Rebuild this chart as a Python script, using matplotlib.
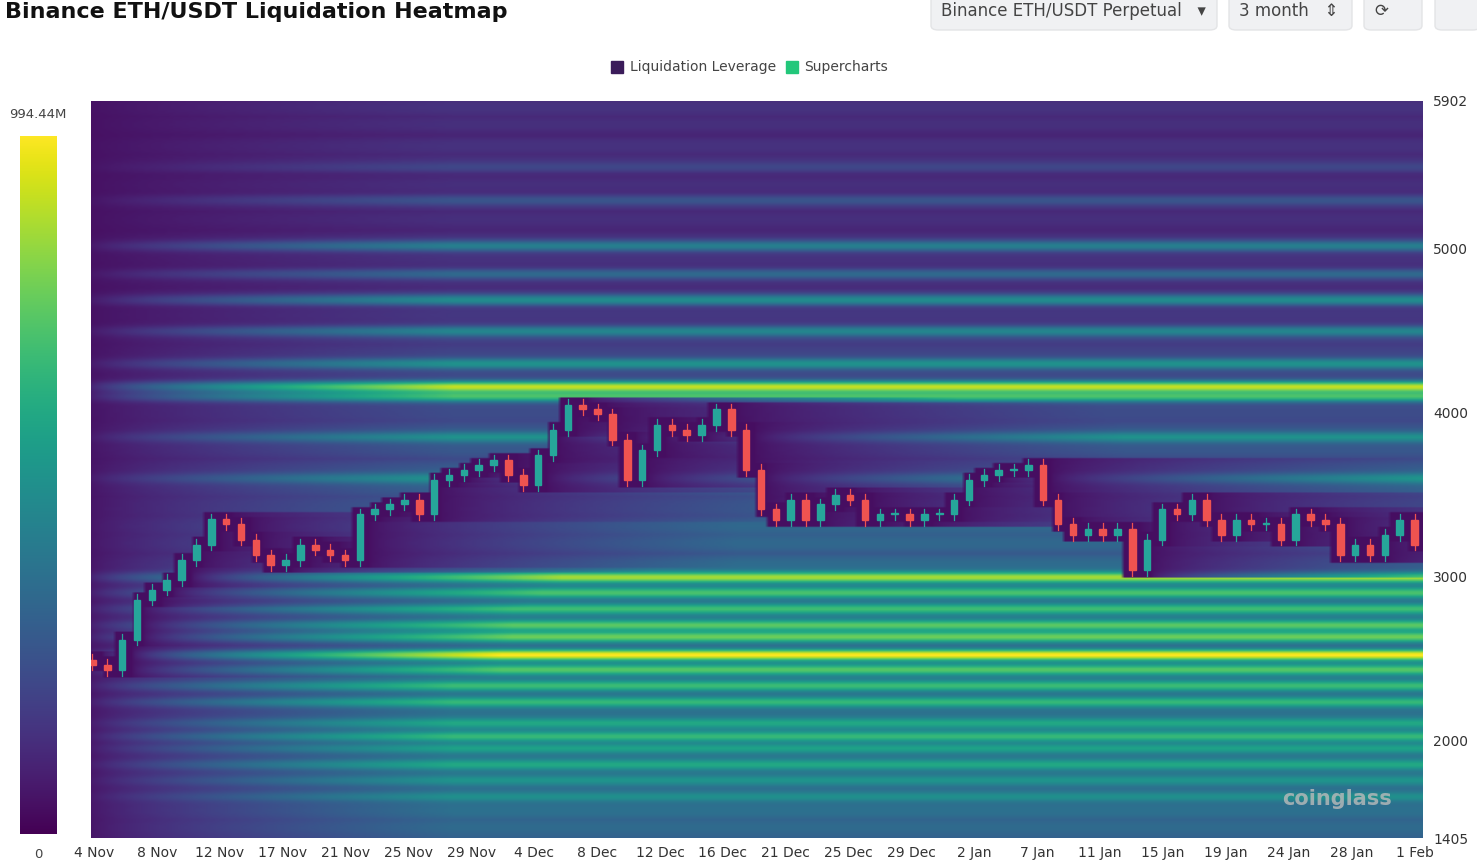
import numpy as np
import matplotlib
matplotlib.use("Agg")
import matplotlib.pyplot as plt
from matplotlib.patches import FancyBboxPatch, Rectangle

# ---------------- data ----------------
dates = ["4 Nov","8 Nov","12 Nov","17 Nov","21 Nov","25 Nov","29 Nov","4 Dec","8 Dec","12 Dec",
         "16 Dec","21 Dec","25 Dec","29 Dec","2 Jan","7 Jan","11 Jan","15 Jan","19 Jan","24 Jan",
         "28 Jan","1 Feb"]
closes = [2463,2430,2615,2860,2920,2980,3100,3195,3350,3320,3225,3130,3070,3100,3195,3165,3130,3100,
          3380,3410,3440,3470,3380,3590,3620,3650,3680,3710,3620,3560,3740,3895,4050,4020,3990,3835,
          3590,3770,3925,3895,3865,3925,4020,3895,3650,3410,3345,3470,3345,3440,3500,3470,3345,3380,
          3380,3345,3380,3380,3470,3590,3620,3650,3650,3680,3470,3320,3255,3290,3255,3290,3040,3225,
          3410,3380,3470,3345,3255,3345,3320,3320,3225,3380,3345,3320,3130,3195,3130,3255,3345,3195]
band_prices =    [5500,5300,5020,4850,4690,4500,4300,4160,4100,3850,3600,2995,2900,2800,2700,2630,2520,2430,2330,2230,2100,2020,1950,1850,1750,1650]
band_strengths = [0.06,0.10,0.30,0.20,0.35,0.30,0.38,0.95,0.60,0.30,0.30,0.75,0.55,0.50,0.55,0.60,1.00,0.55,0.50,0.45,0.35,0.45,0.30,0.35,0.25,0.20]
yticks = [1405,2000,3000,4000,5000,5902]
cbar_labels = ["0","994.44M"]

# ---------------- figure ----------------
fig = plt.figure(figsize=(14.77,8.65), dpi=100)
fig.patch.set_facecolor("white")
ax = fig.add_axes([91/1477, 27/865, 1334/1477, 737/865])

n = len(closes)
opens = [closes[0]+30] + closes[:-1]
highs = [max(o,c)+45 for o,c in zip(opens,closes)]
lows = [min(o,c)-45 for o,c in zip(opens,closes)]

pr = np.linspace(1405,5902,450)
dt = 0.25
tt = np.arange(-0.5, n-0.5+1e-9, dt)
base = 0.02 + 0.16*np.clip((4800-pr)/1800, 0, 1)
for bp, bs in zip(band_prices, band_strengths):
    base += bs*np.exp(-0.5*((pr-bp)/22.0)**2)
fine = 0.05*np.abs(np.sin(pr/37.0))+0.04*np.abs(np.sin(pr/91.0))
base += fine*(0.4+0.6*np.clip((4800-pr)/1800, 0, 1))
age = np.zeros_like(pr)
Z = np.zeros((len(pr), len(tt)))
for j,t in enumerate(tt):
    d = int(np.clip(round(t),0,n-1))
    touched = (pr >= lows[d]) & (pr <= highs[d])
    age += dt
    age[touched] = 0
    Z[:,j] = base*np.minimum(1, age/25.0)
Z = (Z/Z.max())**0.7
ax.imshow(Z, origin="lower", aspect="auto", cmap="viridis", extent=[-0.5,n-0.5,1405,5902],
          interpolation="bilinear", vmin=-0.04, vmax=1.0)

for i in range(n):
    col = "#26a69a" if closes[i] >= opens[i] else "#ef5350"
    ax.plot([i,i],[lows[i]+10,highs[i]-10], color=col, lw=0.9)
    ax.add_patch(Rectangle((i-0.22,min(opens[i],closes[i])), 0.44, max(abs(closes[i]-opens[i]),8), color=col))

ax.set_xlim(-0.1, 89.7)
ax.set_ylim(1405,5902)
ax.yaxis.tick_right()
ax.set_yticks(yticks)
ax.set_yticklabels([str(v) for v in yticks], fontsize=10, color="#333")
ax.set_xticks(np.linspace(0.1, 89.0, len(dates)))
ax.set_xticklabels(dates, fontsize=10, color="#333")
ax.tick_params(length=0, pad=6)
for s in ax.spines.values():
    s.set_visible(False)
ax.text(0.975,0.045,"coinglass", transform=ax.transAxes, ha="right", fontsize=15,
        color="#bbbbbb", fontweight="bold", alpha=0.8)

cax = fig.add_axes([20/1477, 31/865, 37/1477, 698/865])
cax.imshow(np.linspace(0,1,256)[:,None], origin="lower", aspect="auto", cmap="viridis")
cax.set_xticks([]); cax.set_yticks([])
for s in cax.spines.values(): s.set_visible(False)
fig.text(38/1477, 1-114/865, cbar_labels[1], ha="center", va="center", fontsize=9.5, color="#444")
fig.text(38/1477, 1-854/865, cbar_labels[0], ha="center", va="center", fontsize=9.5, color="#444")

fig.text(5/1477, 1-12/865, "Binance ETH/USDT Liquidation Heatmap", fontsize=16, fontweight="bold",
         va="center", color="#111")
for (x0,w,label) in [(931,286,"Binance ETH/USDT Perpetual   ▾"),(1229,123,"3 month   ⇕"),(1364,58,"⟳"),(1435,45,"")]:
    fig.patches.append(FancyBboxPatch((x0/1477, 1-30/865), w/1477, 40/865, boxstyle="round,pad=0,rounding_size=0.005",
                       transform=fig.transFigure, facecolor="#f0f1f3", edgecolor="#e3e4e6"))
    fig.text((x0+10)/1477, 1-11/865, label, fontsize=12, va="center", color="#444")
fig.patches.append(Rectangle((611/1477,1-73/865),12/1477,12/865, transform=fig.transFigure, color="#3b1c5a"))
fig.text(630/1477, 1-67/865, "Liquidation Leverage", fontsize=10, va="center", color="#444")
fig.patches.append(Rectangle((786/1477,1-73/865),12/1477,12/865, transform=fig.transFigure, color="#22c77a"))
fig.text(804/1477, 1-67/865, "Supercharts", fontsize=10, va="center", color="#444")

fig.savefig("out.png", dpi=100)
